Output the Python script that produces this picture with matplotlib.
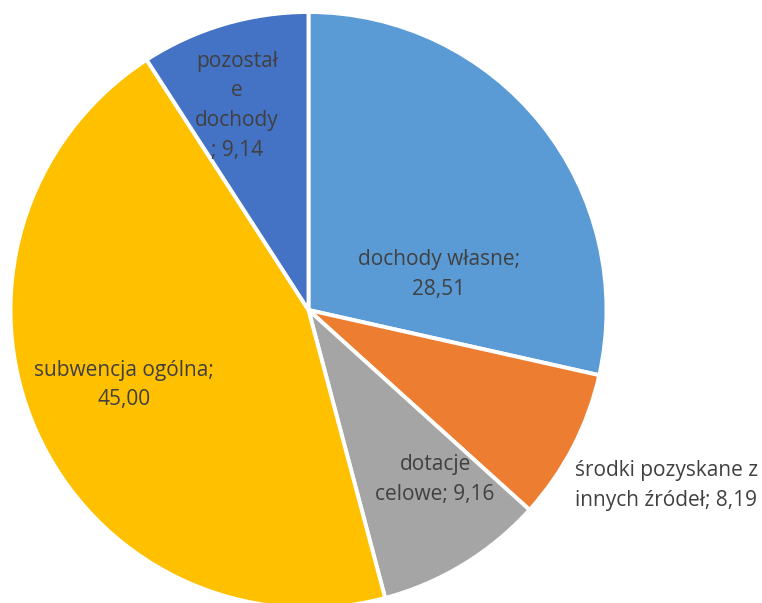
import matplotlib.pyplot as plt

# data
labels = ["dochody własne;\n28,51", "środki pozyskane z\ninnych źródeł; 8,19",
          "dotacje\ncelowe; 9,16", "subwencja ogólna;\n45,00",
          "pozostał\ne\ndochody\n; 9,14"]
values = [28.51, 8.19, 9.16, 45.00, 9.14]
colors = ["#5B9BD5", "#ED7D31", "#A5A5A5", "#FFC000", "#4472C4"]
# label positions (pie radius = 1)
label_pos = [(0.438, 0.120), (1.200, -0.590), (0.425, -0.570), (-0.619, -0.252), (-0.240, 0.685)]

fig = plt.figure(figsize=(7.62, 6.03), dpi=100)
cx, cy, r = 308.5, 310, 298
ax = fig.add_axes([(cx - r) / 762, (603 - cy - r) / 603, 2 * r / 762, 2 * r / 603])
ax.pie(values, colors=colors, startangle=90, counterclock=False, radius=1,
       wedgeprops=dict(edgecolor="white", linewidth=2.8))
ax.set_xlim(-1, 1)
ax.set_ylim(-1, 1)
ax.axis("off")

for lab, (x, y) in zip(labels, label_pos):
    ax.text(x, y, lab, ha="center", va="center", fontsize=15, color="#404040",
            family="Open Sans", linespacing=1.55, clip_on=False)

plt.savefig("out.png", dpi=100)
